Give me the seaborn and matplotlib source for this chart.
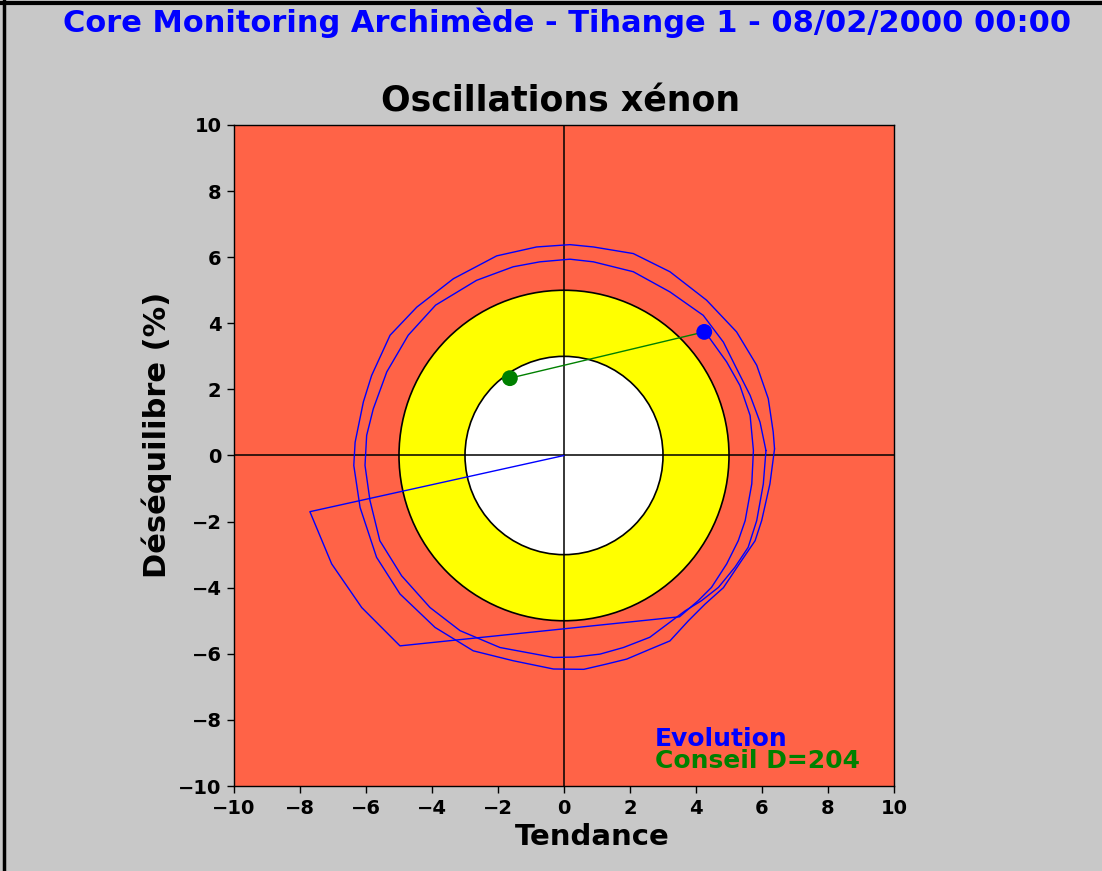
import matplotlib
matplotlib.use("Agg")
import matplotlib.pyplot as plt
from matplotlib.patches import Circle
from matplotlib.lines import Line2D
import seaborn as sns
import pandas as pd

# --- valeurs ---
W, H = 1102, 871

ticks = list(range(-10, 11, 2))

# trajectoire d'évolution (tendance, déséquilibre)
evo_x = [0.0, -7.70, -7.04, -6.13, -4.97, 3.50, 4.07, 4.47, 4.93, 5.28, 5.49, 5.69, 5.74, 5.64, 5.33, 4.93, 4.42, 4.25]
evo_y = [0.0, -1.70, -3.28, -4.60, -5.76, -4.88, -4.39, -3.99, -3.28, -2.58, -1.97, -0.86, 0.15, 1.21, 2.12, 2.83, 3.54, 3.74]

# boucle extérieure
outer_x = [6.38, 6.34, 6.19, 5.84, 5.23, 4.32, 3.21, 2.10, 0.89, 0.18, -0.83, -2.04, -3.35, -4.46, -5.27, -5.83,
           -6.08, -6.33, -6.37, -6.18, -5.68, -4.97, -3.91, -2.75, -1.54, -0.32, 0.60, 1.29, 1.90, 2.61, 3.21,
           3.77, 4.27, 4.83, 5.38, 5.79, 5.99, 6.24, 6.38]
outer_y = [0.20, 0.71, 1.72, 2.73, 3.74, 4.70, 5.56, 6.11, 6.31, 6.38, 6.31, 6.04, 5.35, 4.49, 3.64, 2.42,
           1.62, 0.40, -0.30, -1.57, -3.08, -4.19, -5.20, -5.91, -6.21, -6.46, -6.47, -6.31, -6.16, -5.86, -5.61,
           -5.00, -4.50, -4.00, -3.18, -2.58, -1.97, -0.86, 0.20]

# boucle intermédiaire
middle_x = [6.12, 5.94, 5.64, 5.23, 4.83, 4.22, 3.21, 2.10, 0.89, 0.18, -0.73, -1.54, -2.65, -3.89, -4.72, -5.37,
            -5.78, -5.98, -6.03, -5.88, -5.58, -4.92, -4.06, -3.15, -1.94, -0.32, 0.30, 1.09, 1.80, 2.60, 3.67,
            4.17, 4.68, 5.18, 5.58, 5.84, 6.04, 6.12]
middle_y = [0.15, 1.01, 1.82, 2.63, 3.43, 4.24, 4.95, 5.56, 5.86, 5.94, 5.86, 5.71, 5.30, 4.55, 3.64, 2.53,
            1.41, 0.61, -0.30, -1.36, -2.58, -3.64, -4.60, -5.30, -5.81, -6.11, -6.10, -6.01, -5.81, -5.50, -4.70,
            -4.39, -3.99, -3.38, -2.78, -1.97, -0.86, 0.15]

point_actuel = (4.25, 3.74)
point_conseil = (-1.64, 2.34)
conseil_D = 204

rayon_jaune = 5
rayon_blanc = 3

sns.set_style("ticks")
plt.rcParams["font.family"] = ["DejaVu Sans"]
plt.rcParams["font.weight"] = "bold"
plt.rcParams["text.color"] = "black"
plt.rcParams["xtick.color"] = "black"
plt.rcParams["ytick.color"] = "black"
plt.rcParams["axes.labelcolor"] = "black"

fig = plt.figure(figsize=(W / 100, H / 100), dpi=100, facecolor="#c8c8c8")
ax = fig.add_axes([234 / W, 1 - 786 / H, 660 / W, 661 / H])
ax.set_facecolor("#ff6347")

ax.add_patch(Circle((0, 0), rayon_jaune, fc="#ffff00", ec="black", lw=1.2, zorder=1))
ax.add_patch(Circle((0, 0), rayon_blanc, fc="white", ec="black", lw=1.2, zorder=2))
ax.axhline(0, color="black", lw=1.1, zorder=3)
ax.axvline(0, color="black", lw=1.1, zorder=3)

df_out = pd.DataFrame({"x": outer_x, "y": outer_y})
df_mid = pd.DataFrame({"x": middle_x, "y": middle_y})
df_evo = pd.DataFrame({"x": evo_x, "y": evo_y})
for d in [df_out, df_mid, df_evo]:
    sns.lineplot(data=d, x="x", y="y", sort=False, estimator=None, color="#0000ff", lw=1.0, ax=ax, zorder=4)

sns.lineplot(x=[point_conseil[0], point_actuel[0]], y=[point_conseil[1], point_actuel[1]],
             sort=False, estimator=None, color="#008000", lw=1.0, ax=ax, zorder=5)
sns.scatterplot(x=[point_actuel[0]], y=[point_actuel[1]], color="#0000ff", s=130, edgecolor="none", ax=ax, zorder=6)
sns.scatterplot(x=[point_conseil[0]], y=[point_conseil[1]], color="#008000", s=130, edgecolor="none", ax=ax, zorder=6)

ax.set_xlim(-10, 10)
ax.set_ylim(-10, 10)
ax.set_xticks(ticks)
ax.set_yticks(ticks)
ax.set_xlabel("")
ax.set_ylabel("")
ax.tick_params(direction="out", length=5, width=1, color="black", labelsize=14, pad=4)
for lab in ax.get_xticklabels() + ax.get_yticklabels():
    lab.set_fontweight("bold")
for s in ax.spines.values():
    s.set_color("black")
    s.set_linewidth(1)

# textes
fig.text(567 / W, 1 - 23 / H, "Core Monitoring Archimède - Tihange 1 - 08/02/2000 00:00",
         ha="center", va="center", color="#0000ff", fontsize=22, fontweight="bold")
fig.text(561 / W, 1 - 101 / H, "Oscillations xénon", ha="center", va="center", fontsize=25, fontweight="bold")
fig.text(592 / W, 1 - 837 / H, "Tendance", ha="center", va="center", fontsize=21, fontweight="bold")
fig.text(157 / W, 1 - 435 / H, "Déséquilibre (%)", ha="center", va="center", rotation=90,
         fontsize=22, fontweight="bold")
fig.text(655 / W, 1 - 739 / H, "Evolution", ha="left", va="center", color="#0000ff", fontsize=18, fontweight="bold")
fig.text(655 / W, 1 - 761 / H, f"Conseil D={conseil_D}", ha="left", va="center", color="#008000",
         fontsize=18, fontweight="bold")

# cadre de la fenêtre
fig.add_artist(Line2D([0, 1], [1 - 3 / H, 1 - 3 / H], color="black", lw=3, transform=fig.transFigure))
fig.add_artist(Line2D([4 / W, 4 / W], [0, 1], color="black", lw=2.5, transform=fig.transFigure))

fig.savefig("out.png", dpi=100, facecolor=fig.get_facecolor())
